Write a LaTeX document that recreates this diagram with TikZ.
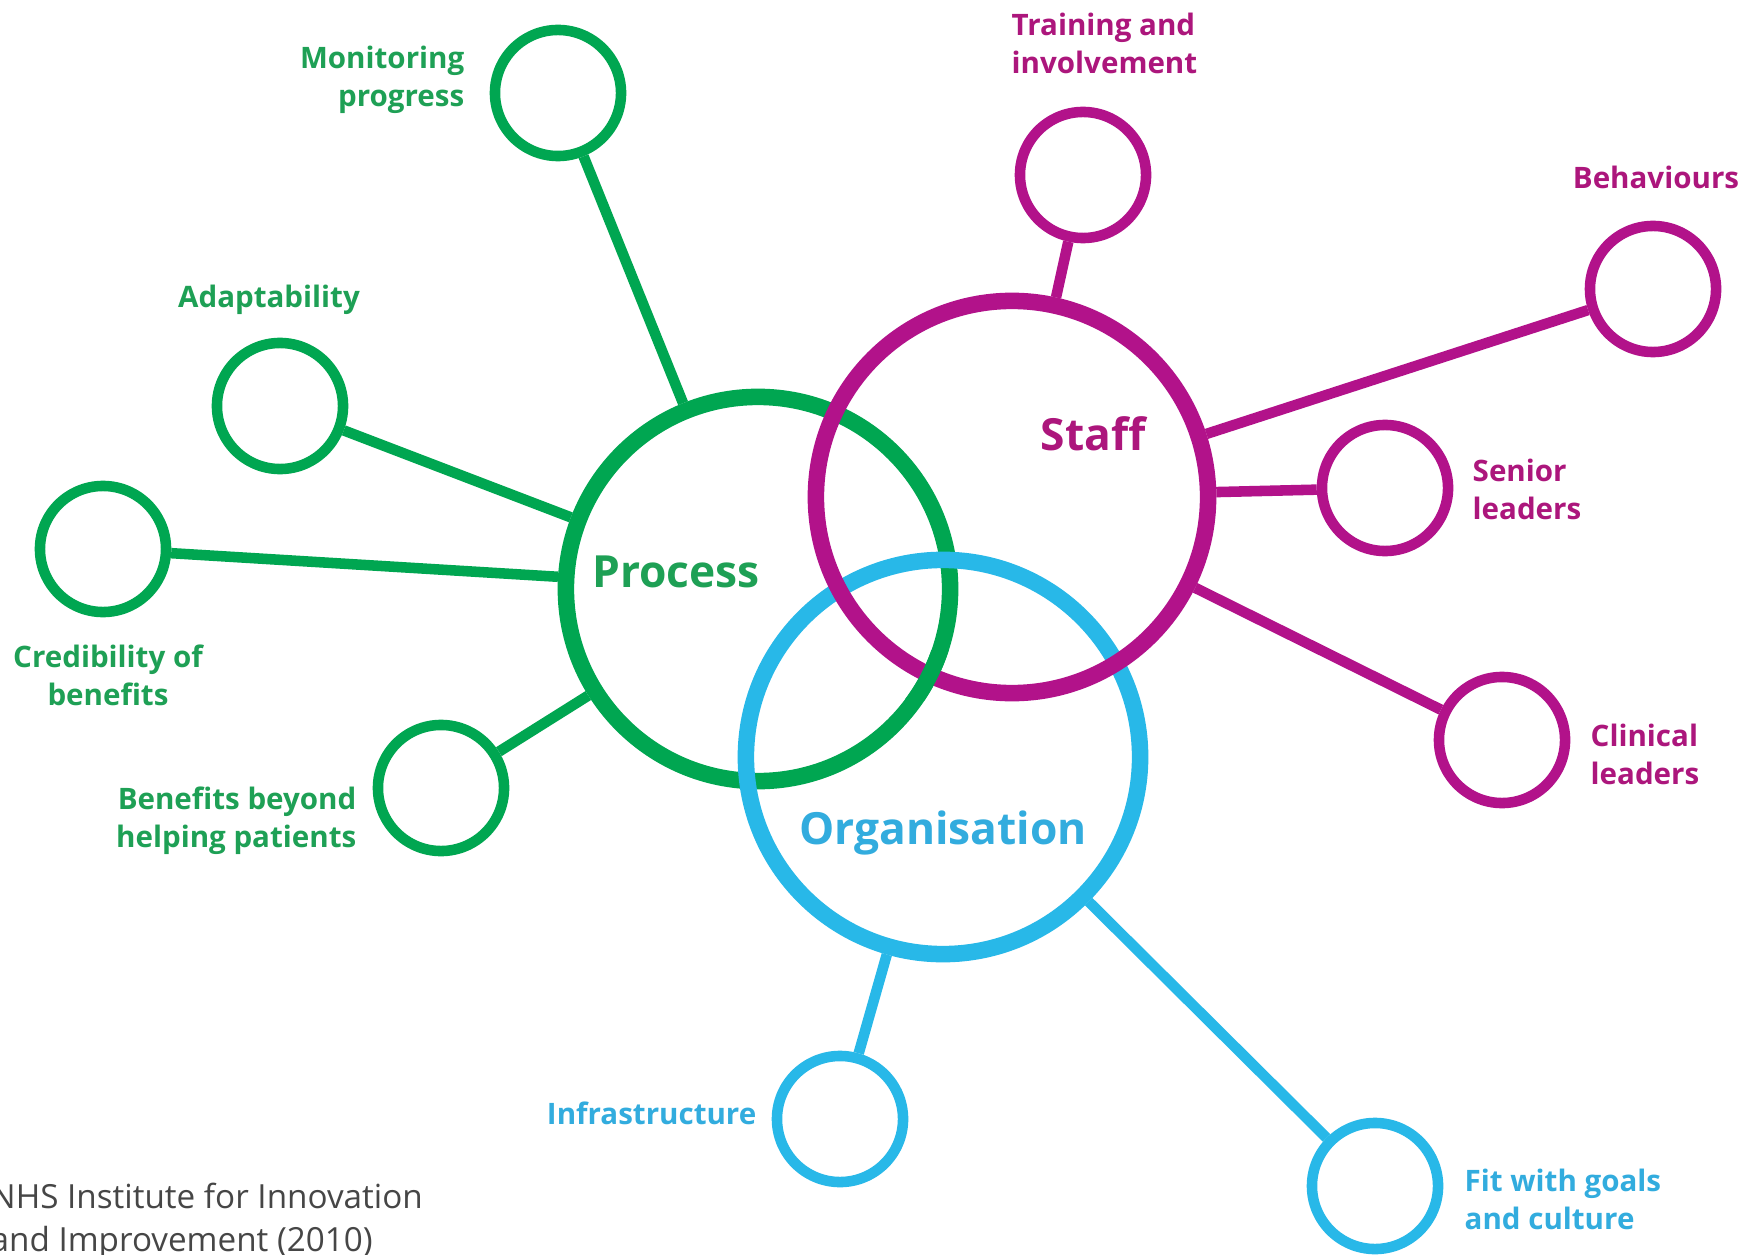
\documentclass[tikz,border=0pt]{standalone}
\usepackage{fontspec}
\setmainfont{Open Sans}
\definecolor{pgreen}{RGB}{0,166,81}
\definecolor{smag}{RGB}{178,18,138}
\definecolor{ocyan}{RGB}{40,184,232}
\definecolor{tgreen}{RGB}{30,160,85}
\definecolor{tmag}{RGB}{172,22,124}
\definecolor{tcyan}{RGB}{50,172,222}
\definecolor{srcgray}{RGB}{70,70,70}
\begin{document}
\begin{tikzpicture}[x=0.01cm,y=-0.01cm,
  bigring/.style={circle,draw,line width=4.7pt,inner sep=0pt,minimum size=#1},
  smallring/.style={circle,draw,line width=3pt,inner sep=0pt,minimum size=1.26cm},
  conn/.style={line width=3pt},
  lbl/.style={font=\bfseries\fontsize{8.4}{10.8}\selectfont,inner sep=0pt},
  biglbl/.style={font=\bfseries\fontsize{12.6}{15}\selectfont,inner sep=0pt},
  src/.style={font=\fontsize{9.45}{12.2}\selectfont,inner sep=0pt,text=srcgray,align=left,anchor=west}
]
\useasboundingbox (0,0) rectangle (1758,1255);
\fill[white] (0,0) rectangle (1758,1255);

% big rings
\node[bigring=3.84cm,pgreen] (proc) at (758,589) {};
\node[bigring=3.94cm,ocyan] (org) at (943,757) {};
\node[bigring=3.92cm,smag] (staff) at (1012,497) {};
% green over magenta at lower crossing
\begin{scope}
  \clip (905,650) rectangle (955,700);
  \draw[pgreen,line width=4.7pt] (758,589) circle[radius=192];
\end{scope}

% small rings - process
\node[smallring,pgreen] (mon) at (558,93) {};
\node[smallring,pgreen] (adapt) at (280,406) {};
\node[smallring,pgreen] (cred) at (103,549) {};
\node[smallring,pgreen] (bene) at (441,788) {};
% staff
\node[smallring,smag] (train) at (1083,175) {};
\node[smallring,smag] (behav) at (1653,289) {};
\node[smallring,smag] (senior) at (1385,488) {};
\node[smallring,smag] (clin) at (1502,740) {};
% organisation
\node[smallring,ocyan] (infra) at (840,1119) {};
\node[smallring,ocyan] (fit) at (1375,1186) {};

% connectors
\draw[conn,pgreen] (mon) -- (proc);
\draw[conn,pgreen] (adapt) -- (proc);
\draw[conn,pgreen] (cred) -- (proc);
\draw[conn,pgreen] (bene) -- (proc);
\draw[conn,smag] (train) -- (staff);
\draw[conn,smag] (behav) -- (staff);
\draw[conn,smag] (senior) -- (staff);
\draw[conn,smag] (clin) -- (staff);
\draw[conn,ocyan] (infra) -- (org);
\draw[conn,ocyan] (fit) -- (org);

% big labels
\node[biglbl,text=tgreen] (tproc) at (676,572) {Process};
\node[biglbl,text=tmag] (tstaff) at (1093,434) {Staff};
\node[biglbl,text=tcyan] (torg) at (943,833) {Organisation};

% small labels
\node[lbl,text=tgreen,align=right,anchor=east] (lmon) at (465,80) {Monitoring\\progress};
\node[lbl,text=tgreen] (ladapt) at (269,300) {Adaptability};
\node[lbl,text=tgreen,align=center] (lcred) at (108,675) {Credibility of\\benefits};
\node[lbl,text=tgreen,align=right,anchor=east] (lbene) at (357,821) {Benefits beyond\\helping patients};
\node[lbl,text=tmag,align=left,anchor=west] (ltrain) at (1011,43) {Training and\\involvement};
\node[lbl,text=tmag] (lbehav) at (1656,177) {Behaviours};
\node[lbl,text=tmag,align=left,anchor=west] (lsenior) at (1472,489) {Senior\\leaders};
\node[lbl,text=tmag,align=left,anchor=west] (lclin) at (1590,754) {Clinical\\leaders};
\node[lbl,text=tcyan,anchor=east] (linfra) at (757,1113) {Infrastructure};
\node[lbl,text=tcyan,align=left,anchor=west] (lfit) at (1464,1199) {Fit with goals\\and culture};

% source
\node[src] (source) at (-10,1221) {NHS Institute for Innovation\\and Improvement (2010)};
\end{tikzpicture}
\end{document}
